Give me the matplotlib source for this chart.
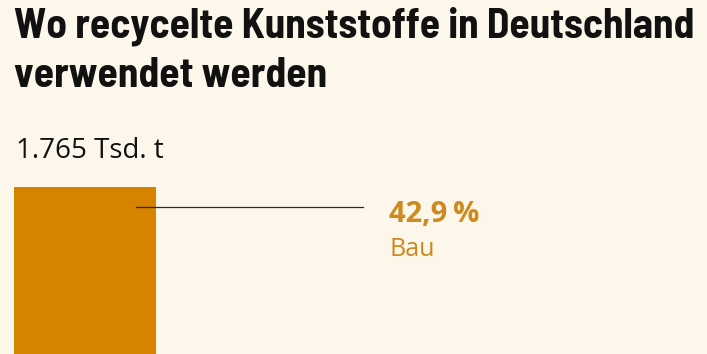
import matplotlib
matplotlib.use("Agg")
import matplotlib.pyplot as plt
from matplotlib import font_manager as fm

# data
title_lines = ["Wo recycelte Kunststoffe in Deutschland", "verwendet werden"]
total_label = "1.765 Tsd. t"
categories = ["Bau"]
shares = [42.9]
share_labels = ["42,9\u2009%"]

BG = "#FDF6EA"
BAR = "#D68400"
TXT_ORANGE = "#CC8A1F"

W, H = 707, 354
fig = plt.figure(figsize=(W / 100, H / 100), dpi=100, facecolor=BG)
ax = fig.add_axes([0, 0, 1, 1])
ax.set_facecolor(BG)
ax.axis("off")

# pick a (semi-)condensed bold font if one is installed
def rank(f):
    nm = (f.name + " " + str(f.fname)).lower().replace("-", "").replace(" ", "")
    if "italic" in nm or "oblique" in nm:
        return None
    bold = ("bold" in nm and "extrabold" not in nm and "semibold" not in nm) or f.weight in ("bold", 700)
    if not bold:
        return None
    if "semicondensed" in nm:
        return 0
    if "narrow" in nm:
        return 1
    if "condensed" in nm and "extracondensed" not in nm:
        return 2
    return None

cands = [(rank(f), f.name, f.fname) for f in fm.fontManager.ttflist if rank(f) is not None]
cands.sort()
if cands:
    title_fp = fm.FontProperties(fname=cands[0][2])
else:
    title_fp = fm.FontProperties(family="Roboto", weight="bold")

px = 142.0  # pixels per x unit
ax.set_xlim(-14 / px, (W - 14) / px)
ypx = 5.0  # pixels per percentage point
top = 100.0
ax.set_ylim(top - (H - 187) / ypx, top + 187 / ypx)

bottom = top
for cat, s, lab in zip(categories, shares, share_labels):
    bottom -= s
    ax.bar(0, s, bottom=bottom, width=1, align="edge", color=BAR, linewidth=0)
    yline = top - 20 / ypx
    ax.plot([(136 - 14) / px, (363 - 14) / px], [yline, yline], color="#2a2a2a", lw=0.9)
    ax.text((389 - 14) / px, top - 35 / ypx, lab, color=TXT_ORANGE, fontsize=21,
            fontweight="bold", family="Open Sans", va="baseline", ha="left")
    ax.text((389 - 14) / px, top - 69 / ypx, cat, color=TXT_ORANGE, fontsize=18,
            family="Open Sans", va="baseline", ha="left")

# title: fit first line to the reference width (~680 px)
t1 = fig.text(14 / W, 1 - 38 / H, title_lines[0], fontproperties=title_fp,
              color="#111111", va="baseline")
t1.set_fontsize(28)
fig.canvas.draw()
w = t1.get_window_extent().width
size = min(31, 28 * 680 / w)
t1.set_fontsize(size)
t2 = fig.text(14 / W, 1 - 87 / H, title_lines[1], fontproperties=title_fp,
              color="#111111", va="baseline")
t2.set_fontsize(size)

fig.text(16 / W, 1 - 158 / H, total_label, fontsize=20, family="Open Sans",
         color="#111111", va="baseline")

fig.savefig("out.png", dpi=100, facecolor=BG)
